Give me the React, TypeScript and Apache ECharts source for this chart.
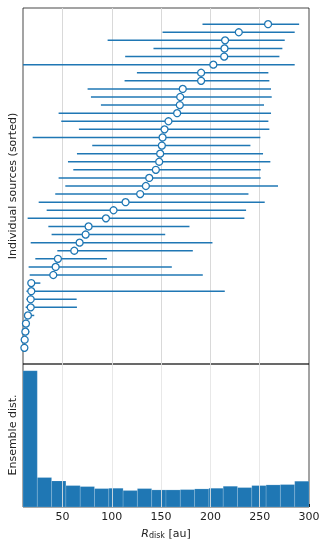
import React, { useEffect, useRef } from "react";
import * as echarts from "echarts";

// Individual sources, sorted from bottom (index 0) to top
const sourceMedian = [11.4, 11.7, 12.4, 13, 15, 17.8, 17.8, 18.4, 18.4, 40.7, 43.1, 45.4, 62, 67.4, 73.5, 76.5, 94.1, 101.8, 114, 128.8, 134.6, 138, 144.7, 148.1, 149.1, 150.8, 151.5, 153.5, 157.5, 166.3, 169, 169.4, 172, 190.6, 190.6, 203, 214, 214.3, 214.9, 228.8, 258.5];
const sourceLow = [10.5, 10.5, 11, 10.5, 11, 12.7, 13.5, 13.5, 16, 16.8, 15.7, 22.5, 44.8, 17.8, 39, 35.7, 14.7, 34, 25.9, 42.7, 52.9, 46.1, 61, 55.6, 64.7, 80.2, 19.8, 66.7, 48.8, 46.1, 89, 78.9, 75.5, 113, 125.5, 3, 113.6, 142.3, 95.8, 151.5, 192];
const sourceHigh = [12.2, 14, 16.4, 15.7, 21.4, 64.7, 64.4, 214.6, 27.6, 192.3, 160.9, 95.1, 182.2, 202.1, 154.2, 178.8, 234.5, 236.2, 255.1, 238.6, 268.6, 251, 251, 260.8, 253.4, 240.6, 250.7, 259.8, 258.8, 261.5, 254.4, 262.2, 261.5, 259.8, 258.8, 285.5, 270, 273, 275.4, 285.5, 290];

// Ensemble distribution histogram
const binEdges = [10, 24.5, 39, 53.5, 68, 82.5, 97, 111.5, 126, 140.5, 155, 169.5, 184, 198.5, 213, 227.5, 242, 256.5, 271, 285.5, 300];
const binHeights = [4.07, 0.88, 0.78, 0.64, 0.61, 0.55, 0.56, 0.49, 0.55, 0.51, 0.51, 0.52, 0.54, 0.56, 0.62, 0.58, 0.64, 0.66, 0.67, 0.77];

// Axis ticks
const xTickValues = [50, 100, 150, 200, 250, 300];
const gridValues = [50, 100, 150, 200, 250];

const BLUE = "#1f77b4";
const FONT = "DejaVu Sans";

export default function App() {
  const ref = useRef<HTMLDivElement>(null);
  useEffect(() => {
    if (!ref.current) return;
    const chart = echarts.init(ref.current, null, { renderer: "svg" });
    const n = sourceMedian.length;

    const option: any = {
      animation: false,
      textStyle: { fontFamily: FONT },
      grid: [
        { left: 23, top: 8, width: 286, height: 356, show: true, borderColor: "rgba(0,0,0,0.72)", borderWidth: 1 },
        { left: 23, top: 364, width: 286, height: 143, show: true, borderColor: "rgba(0,0,0,0.72)", borderWidth: 1 },
      ],
      xAxis: [
        {
          type: "value", gridIndex: 0, min: 10, max: 300,
          axisLine: { show: false },
          axisTick: { show: false, customValues: gridValues },
          axisLabel: { show: false },
          splitLine: { show: true, lineStyle: { color: "#d9d9d9", width: 1 } },
        },
        {
          type: "value", gridIndex: 1, min: 10, max: 300,
          axisLine: { show: false },
          axisTick: { show: true, inside: true, length: 3, customValues: xTickValues, lineStyle: { color: "#111", width: 1 } },
          axisLabel: { show: true, customValues: xTickValues, margin: 4, fontSize: 11, color: "#222", fontFamily: FONT },
          splitLine: { show: false },
        },
      ],
      yAxis: [
        {
          type: "value", gridIndex: 0, min: -2, max: n + 1,
          axisLine: { show: false }, axisTick: { show: false }, axisLabel: { show: false }, splitLine: { show: false },
        },
        {
          type: "value", gridIndex: 1, min: 0, max: 4.27,
          axisLine: { show: false }, axisTick: { show: false }, axisLabel: { show: false }, splitLine: { show: false },
        },
      ],
      series: [
        {
          type: "custom",
          xAxisIndex: 0,
          yAxisIndex: 0,
          z: 2,
          data: sourceMedian.map((_, i) => [i, sourceLow[i], sourceHigh[i]]),
          encode: { x: [1, 2], y: 0 },
          renderItem: (params: any, api: any) => {
            const cs = params.coordSys;
            const y = api.value(0);
            const p1 = api.coord([api.value(1), y]);
            const p2 = api.coord([api.value(2), y]);
            const x1 = Math.max(p1[0], cs.x);
            const x2 = Math.min(p2[0], cs.x + cs.width);
            return {
              type: "line",
              shape: { x1, y1: p1[1], x2, y2: p2[1] },
              style: { stroke: BLUE, lineWidth: 1.5 },
            };
          },
        },
        {
          type: "scatter",
          xAxisIndex: 0,
          yAxisIndex: 0,
          z: 3,
          symbol: "circle",
          symbolSize: 7,
          data: sourceMedian.map((m, i) => [m, i]),
          itemStyle: { color: "#ffffff", borderColor: BLUE, borderWidth: 1.3, opacity: 1 },
        },
        {
          type: "custom",
          xAxisIndex: 1,
          yAxisIndex: 1,
          z: 2,
          data: binHeights.map((h, i) => [binEdges[i], binEdges[i + 1], h]),
          encode: { x: [0, 1], y: 2 },
          renderItem: (params: any, api: any) => {
            const p0 = api.coord([api.value(0), 0]);
            const p1 = api.coord([api.value(1), api.value(2)]);
            return {
              type: "rect",
              shape: { x: p0[0], y: p1[1], width: p1[0] - p0[0], height: p0[1] - p1[1] },
              style: { fill: BLUE, stroke: "rgba(255,255,255,0.25)", lineWidth: 0.6 },
            };
          },
          markLine: {
            silent: true,
            symbol: "none",
            label: { show: false },
            lineStyle: { color: "rgba(228,228,228,0.85)", width: 1, type: "solid" },
            emphasis: { disabled: true },
            data: gridValues.map((v) => ({ xAxis: v })),
          },
        },
      ],
      graphic: [
        {
          type: "text",
          x: 12,
          y: 186,
          rotation: Math.PI / 2,
          style: { text: "Individual sources (sorted)", font: `11px "${FONT}"`, fill: "#222", align: "center", verticalAlign: "middle" },
        },
        {
          type: "text",
          x: 12,
          y: 435,
          rotation: Math.PI / 2,
          style: { text: "Ensemble dist.", font: `11px "${FONT}"`, fill: "#222", align: "center", verticalAlign: "middle" },
        },
        {
          type: "text",
          x: 166,
          y: 532,
          style: {
            text: "{r|R}{s|disk}{n| [au]}",
            align: "center",
            verticalAlign: "middle",
            rich: {
              r: { fontStyle: "italic", fontSize: 11, fontFamily: FONT, fill: "#222", lineHeight: 14, verticalAlign: "bottom" },
              s: { fontSize: 8, fontFamily: FONT, fill: "#222", lineHeight: 14, verticalAlign: "bottom", padding: [4, 0, 0, 0] },
              n: { fontSize: 11, fontFamily: FONT, fill: "#222", lineHeight: 14, verticalAlign: "bottom" },
            },
          },
        },
      ],
    };
    chart.setOption(option);
    return () => chart.dispose();
  }, []);
  return <div ref={ref} style={{ position: "fixed", left: 0, top: 0, width: 327, height: 545 }} />;
}
